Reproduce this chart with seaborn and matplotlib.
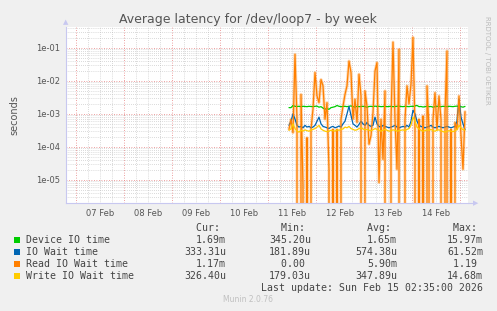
import numpy as np
import pandas as pd
import matplotlib
matplotlib.use("Agg")
import matplotlib.pyplot as plt
import matplotlib.dates as mdates
from matplotlib.patches import Rectangle
from matplotlib.ticker import LogLocator, FuncFormatter, NullFormatter
import seaborn as sns

# ---------------- data ----------------
start_time = "2026-02-11 10:30"
n_points = 89  # hourly averages

device_io = [1.55e-3, 1.55e-3, 1.8e-3, 1.7e-3, 1.68e-3, 1.7e-3, 1.66e-3, 1.7e-3, 1.68e-3, 1.66e-3,
             1.7e-3, 1.68e-3, 1.66e-3, 1.7e-3, 1.72e-3, 1.6e-3, 1.66e-3, 1.5e-3, 1.4e-3, 1.45e-3,
             1.38e-3, 1.55e-3, 1.6e-3, 1.66e-3, 1.8e-3, 1.7e-3, 1.66e-3, 1.68e-3, 1.7e-3, 1.66e-3,
             1.7e-3, 1.75e-3, 1.66e-3, 1.6e-3, 1.7e-3, 1.66e-3, 1.68e-3, 1.7e-3, 1.66e-3, 1.6e-3,
             1.68e-3, 1.7e-3, 1.66e-3, 1.72e-3, 1.68e-3, 1.7e-3, 1.66e-3, 1.68e-3, 1.7e-3, 1.66e-3,
             1.68e-3, 1.7e-3, 1.66e-3, 1.68e-3, 1.7e-3, 1.72e-3, 1.68e-3, 1.66e-3, 1.7e-3, 1.68e-3,
             1.66e-3, 1.7e-3, 1.68e-3, 1.75e-3, 1.8e-3, 1.66e-3, 1.68e-3, 1.62e-3, 1.66e-3, 1.7e-3,
             1.66e-3, 1.68e-3, 1.6e-3, 1.66e-3, 1.7e-3, 1.68e-3, 1.66e-3, 1.7e-3, 1.68e-3, 1.66e-3,
             1.7e-3, 1.68e-3, 1.66e-3, 1.7e-3, 1.72e-3, 1.68e-3, 1.66e-3, 1.6e-3, 1.69e-3]

io_wait = [4.5e-4, 6e-4, 1.0e-3, 7e-4, 4.5e-4, 4e-4, 4.2e-4, 3.8e-4, 4.5e-4, 4e-4,
           4.2e-4, 3.8e-4, 4e-4, 4.5e-4, 6e-4, 8e-4, 5e-4, 4.2e-4, 4e-4, 3.8e-4,
           3.6e-4, 4e-4, 4.2e-4, 3.8e-4, 4e-4, 4.3e-4, 4e-4, 5e-4, 6e-4, 1.0e-3,
           1.7e-3, 9e-4, 5e-4, 4.5e-4, 4e-4, 4.8e-4, 6e-4, 5e-4, 4.5e-4, 5.5e-4,
           4.5e-4, 4.2e-4, 4.5e-4, 8e-4, 5e-4, 4.2e-4, 4e-4, 4.5e-4, 4.2e-4, 4e-4,
           3.8e-4, 4e-4, 4.2e-4, 4.5e-4, 4e-4, 3.8e-4, 4e-4, 4.2e-4, 4e-4, 4.5e-4,
           4e-4, 6e-4, 1.3e-3, 1.0e-3, 6e-4, 4.5e-4, 4.2e-4, 4e-4, 3.8e-4, 4e-4,
           4.2e-4, 4.5e-4, 4e-4, 3.8e-4, 4e-4, 4.2e-4, 4e-4, 3.8e-4, 4e-4, 4.2e-4,
           4e-4, 3.8e-4, 4e-4, 4.2e-4, 6e-4, 2.8e-3, 8e-4, 5e-4, 3.33e-4]

read_io_wait = [3.4e-4, 6.9e-4, 2.7e-4, 6.4e-2, 6.9e-4, 0.0, 3.9e-3, 6.6e-6, 0.0, 1.9e-4,
                0.0, 3.4e-4, 1.4e-3, 1.8e-2, 3.5e-3, 2.2e-3, 1.1e-2, 7.1e-3, 6.9e-4, 2.2e-3,
                2.1e-5, 0.0, 3.4e-4, 0.0, 3.4e-4, 0.0, 6.9e-4, 1.7e-3, 3.9e-3, 7.1e-3,
                4.0e-2, 1.8e-2, 6.9e-4, 2.8e-3, 5.5e-4, 1.6e-2, 3.5e-3, 0.0, 5.0e-3, 1.7e-3,
                1.2e-4, 2.2e-4, 1.1e-3, 2.0e-2, 3.6e-2, 8.3e-6, 6.9e-4, 4.2e-5, 5.0e-3, 0.0,
                0.0, 6.9e-4, 1.5e-1, 6.9e-4, 2.1e-5, 9.1e-2, 0.0, 0.0, 6.9e-4, 7.1e-3,
                2.0e-3, 7.9e-3, 2.1e-1, 3.4e-4, 0.0, 6.9e-4, 0.0, 8.7e-4, 0.0, 7.1e-3,
                3.4e-4, 0.0, 6.9e-4, 4.4e-3, 3.4e-4, 3.5e-3, 6.9e-4, 0.0, 1.1e-3, 8.1e-2,
                0.0, 3.4e-4, 0.0, 5.5e-4, 3.4e-4, 3.5e-3, 2.2e-4, 2.1e-5, 1.17e-3]

write_io_wait = [3.2e-4, 3.5e-4, 5e-4, 3.6e-4, 3e-4, 2.8e-4, 3.2e-4, 3e-4, 3.3e-4, 3.1e-4,
                 3e-4, 3.2e-4, 3.4e-4, 3.6e-4, 4e-4, 4.5e-4, 3.5e-4, 3.2e-4, 3e-4, 2.9e-4,
                 3e-4, 3.2e-4, 3.1e-4, 3e-4, 3.3e-4, 3.2e-4, 3.4e-4, 3.5e-4, 4e-4, 3.8e-4,
                 4.2e-4, 3.6e-4, 3.4e-4, 3.2e-4, 3.3e-4, 3.6e-4, 3.8e-4, 3.5e-4, 3.3e-4, 3.4e-4,
                 3.2e-4, 3.1e-4, 3.3e-4, 3.6e-4, 3.4e-4, 3.2e-4, 3e-4, 3.2e-4, 3.4e-4, 3.2e-4,
                 3e-4, 3.1e-4, 3.3e-4, 3.2e-4, 3e-4, 3.1e-4, 3.2e-4, 3.3e-4, 3.1e-4, 3.4e-4,
                 3.6e-4, 4.5e-4, 8e-4, 6e-4, 4e-4, 3.5e-4, 3.2e-4, 3e-4, 3.1e-4, 3.3e-4,
                 3.2e-4, 3.4e-4, 3.1e-4, 3e-4, 3.2e-4, 3.3e-4, 3.1e-4, 2.9e-4, 2.8e-4, 3e-4,
                 3.1e-4, 3e-4, 2.9e-4, 3.1e-4, 3.4e-4, 4.5e-4, 3.8e-4, 3.3e-4, 3.26e-4]

series_names = ["Device IO time", "IO Wait time", "Read IO Wait time", "Write IO Wait time"]
series_colors = ["#00CC00", "#0066B3", "#FF8000", "#FFCC00"]
stats_cur = ["1.69m", "333.31u", "1.17m", "326.40u"]
stats_min = ["345.20u", "181.89u", "0.00", "179.03u"]
stats_avg = ["1.65m", "574.38u", "5.90m", "347.89u"]
stats_max = ["15.97m", "61.52m", "1.19", "14.68m"]

x_start = "2026-02-06 19:00"
x_end = "2026-02-15 04:00"

# ---------------- figure ----------------
W, H = 497, 311
sns.set_style("white")
plt.rcParams["font.family"] = ["DejaVu Sans"]

fig = plt.figure(figsize=(W / 100, H / 100), dpi=100, facecolor="#F0F0F0")
L, R, T, B = 66, 468, 27, 203
ax = fig.add_axes([L / W, 1 - B / H, (R - L) / W, (B - T) / H])
ax.set_facecolor("white")

times = pd.date_range(start_time, periods=n_points, freq="h")
df = pd.DataFrame({
    "time": np.tile(times, 4),
    "value": np.concatenate([device_io, io_wait, read_io_wait, write_io_wait]),
    "series": np.repeat(series_names, n_points),
})
palette = dict(zip(series_names, series_colors))

# soft halo under the spiky read series
sns.lineplot(data=df[df.series == series_names[2]], x="time", y="value", color="#FF8000",
             alpha=0.3, linewidth=2.2, estimator=None, ax=ax, legend=False)
sns.lineplot(data=df, x="time", y="value", hue="series", palette=palette,
             hue_order=series_names, linewidth=0.9, estimator=None, ax=ax, legend=False)

ax.set_yscale("log", nonpositive="clip")
ax.set_ylim(2.0e-6, 0.43)
ax.set_xlim(pd.Timestamp(x_start), pd.Timestamp(x_end))

# grids
ax.yaxis.set_major_locator(LogLocator(base=10, numticks=20))
ax.yaxis.set_minor_locator(LogLocator(base=10, subs=np.arange(2, 10), numticks=50))
ax.yaxis.set_major_formatter(FuncFormatter(lambda v, p: "%.0e" % v))
ax.yaxis.set_minor_formatter(NullFormatter())

ax.xaxis.set_major_locator(mdates.DayLocator())
ax.xaxis.set_major_formatter(FuncFormatter(lambda v, p: ""))
ax.xaxis.set_minor_locator(mdates.HourLocator(byhour=[6, 12, 18]))


def day_label(v, p):
    d = mdates.num2date(v)
    return d.strftime("%d %b") if d.hour == 12 else ""


ax.xaxis.set_minor_formatter(FuncFormatter(day_label))

ax.grid(which="major", color="#E88080", linestyle=(0, (1, 2)), linewidth=0.6)
ax.grid(which="minor", color="#B8B8B8", linestyle=(0, (1, 2)), linewidth=0.5)
ax.set_axisbelow(True)

ax.tick_params(axis="both", which="both", labelsize=6, labelcolor="#555555", colors="#C0C0C0")
ax.tick_params(axis="x", which="minor", length=0, pad=4)
ax.tick_params(axis="x", which="major", length=2)
ax.tick_params(axis="y", which="major", length=2, pad=2)
ax.tick_params(axis="y", which="minor", length=0)
ax.set_xlabel("")
ax.set_ylabel("seconds", fontsize=7, color="#555555", labelpad=12)

for s in ["top", "right"]:
    ax.spines[s].set_visible(False)
for s in ["left", "bottom"]:
    ax.spines[s].set_color("#C8C8F0")
    ax.spines[s].set_linewidth(0.8)

# axis arrows
fig.add_artist(plt.Line2D([R / W, 474 / W], [1 - B / H, 1 - B / H], color="#C8C8F0", lw=0.8))
fig.text(476 / W, 1 - B / H, "\u25B6", fontsize=5, color="#C8C8F0", ha="center", va="center")
fig.text(L / W, 1 - 22 / H, "\u25B2", fontsize=5, color="#C8C8F0", ha="center", va="center")

# title and side text
fig.text(248 / W, 1 - 19 / H, "Average latency for /dev/loop7 - by week",
         fontsize=9.0, color="#555555", ha="center", va="center")
fig.text(487 / W, 1 - 60 / H, "RRDTOOL / TOBI OETIKER", fontsize=5, color="#BBBBBB",
         rotation=270, ha="center", va="center")

# legend table
mono = "DejaVu Sans Mono"
fs = 7.1
txt = "#444444"
rows_y = [240, 252, 264, 276]
fig.text(226 / W, 1 - 228 / H, "Cur: ", family=mono, fontsize=fs, color=txt, ha="right", va="center")
fig.text(311 / W, 1 - 228 / H, "Min: ", family=mono, fontsize=fs, color=txt, ha="right", va="center")
fig.text(397 / W, 1 - 228 / H, "Avg: ", family=mono, fontsize=fs, color=txt, ha="right", va="center")
fig.text(483 / W, 1 - 228 / H, "Max: ", family=mono, fontsize=fs, color=txt, ha="right", va="center")

for i, name in enumerate(series_names):
    y = 1 - rows_y[i] / H
    fig.add_artist(Rectangle((14 / W, 1 - (rows_y[i] + 3) / H), 6 / W, 6 / H,
                             transform=fig.transFigure, facecolor=series_colors[i], edgecolor="none"))
    fig.text(26 / W, y, name, family=mono, fontsize=fs, color=txt, ha="left", va="center")
    for val, xr in zip([stats_cur[i], stats_min[i], stats_avg[i], stats_max[i]], [226, 311, 397, 483]):
        shown = val if val[-1] in "mu" else val + " "
        fig.text(xr / W, y, shown, family=mono, fontsize=fs, color=txt, ha="right", va="center")

fig.text(483 / W, 1 - 288 / H, "Last update: Sun Feb 15 02:35:00 2026", family=mono,
         fontsize=fs, color=txt, ha="right", va="center")
fig.text(248 / W, 1 - 300 / H, "Munin 2.0.76", fontsize=5.5, color="#C0C0C0", ha="center", va="center")

fig.savefig("out.png", dpi=100, facecolor=fig.get_facecolor())
